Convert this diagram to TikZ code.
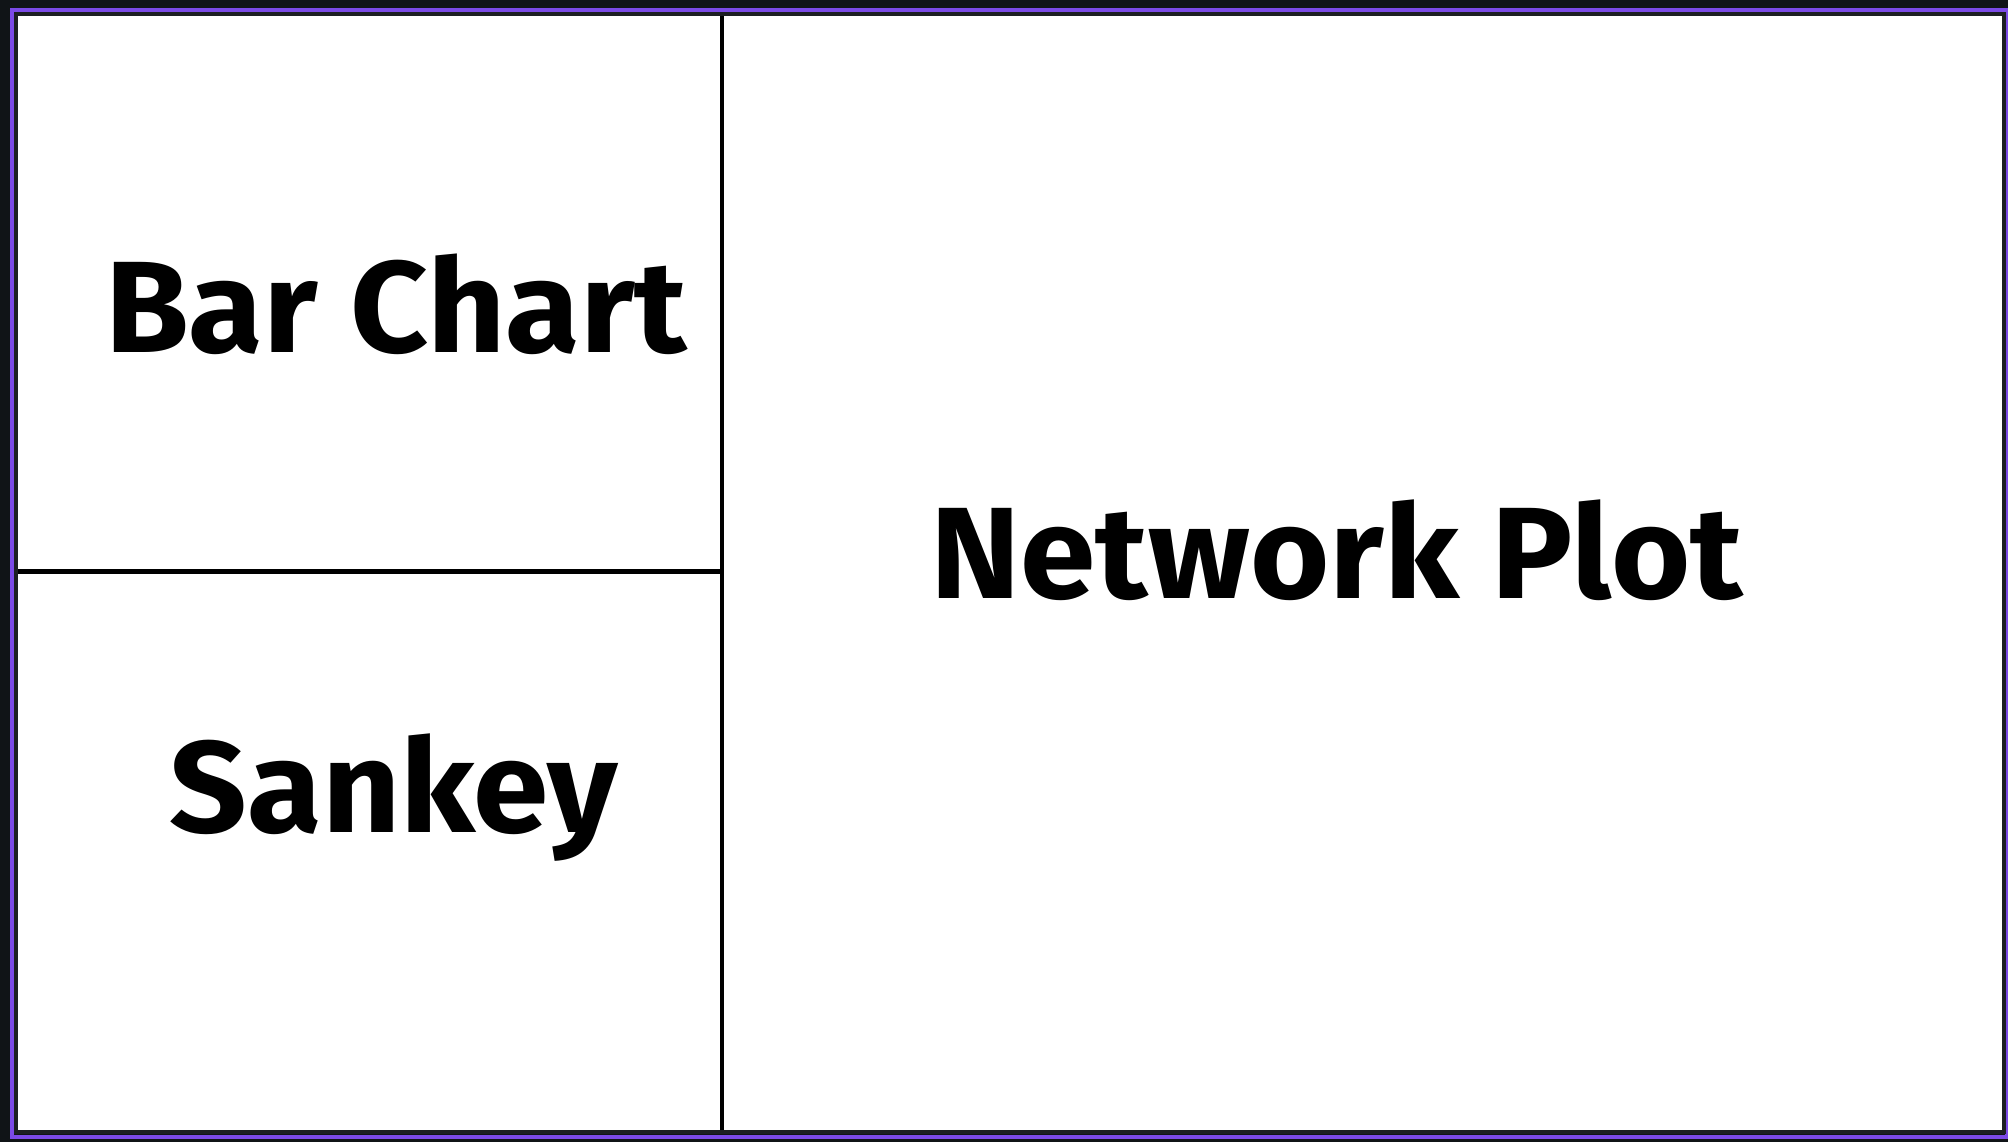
\documentclass[tikz,border=0pt]{standalone}
\usepackage{fontspec}
\setmainfont[FakeStretch=1.045]{Fira Sans}
\definecolor{framebg}{HTML}{101417}
\definecolor{framepurple}{HTML}{7B4AE6}
\definecolor{frameedge}{HTML}{1C1F22}
\tikzset{
  title/.style={font=\fontsize{37}{40}\selectfont\bfseries, anchor=base},
  divider/.style={draw=black, line width=0.045cm}
}

\begin{document}
\begin{tikzpicture}[x=0.01cm, y=-0.01cm]
    \fill[framebg] (0,0) rectangle (2008,1142);
    \useasboundingbox (0,0) rectangle (2008,1142);
    \draw[framepurple, line width=0.04cm] (12,10) rectangle (2006.5,1137);
    \filldraw[fill=white, draw=frameedge, line width=0.04cm] (16,14) rectangle (2004,1132);
    % dividers
    \coordinate (T) at (722,16);
    \coordinate (B) at (722,1130);
    \coordinate (L) at (18,571.5);
    \coordinate (M) at (722,571.5);
    \path[divider] (T) edge (B);
    \path[divider] (L) edge (M);
    \node[title] (BC) at (396,352) {Bar Chart};
    \node[title] (SK) at (394,832) {Sankey};
    \node[title] (NP) at (1337,598) {Network Plot};
  \end{tikzpicture}
\end{document}
